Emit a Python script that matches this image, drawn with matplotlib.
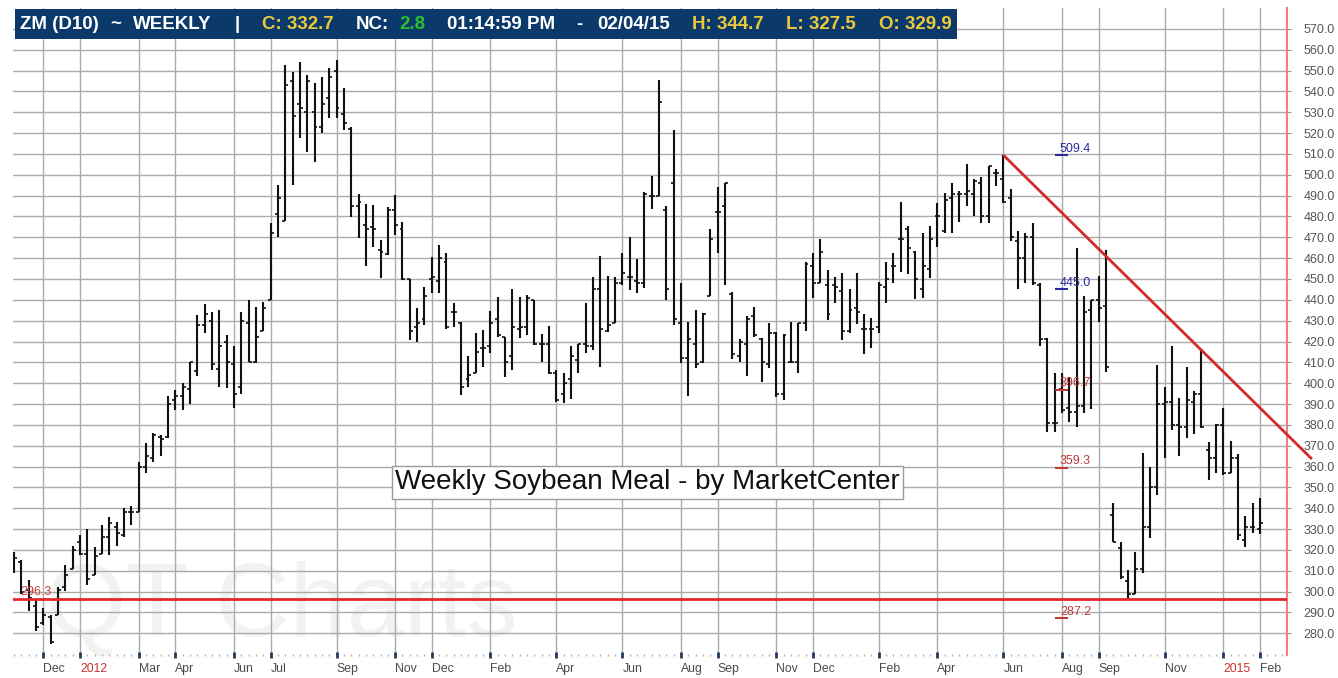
import numpy as np
import pandas as pd
import matplotlib
matplotlib.use('Agg')
import matplotlib.pyplot as plt
from matplotlib.patches import Rectangle

plt.rcParams['font.family'] = ['Liberation Sans', 'DejaVu Sans']

# weekly bars, first week starts Mon 2011-10-31
start = pd.Timestamp('2011-10-31')

opens = [318, 314, 301, 293, 285, 288, 289, 302, 311, 324,
         318, 308, 318, 326, 331, 327, 338, 338, 360, 364,
         374, 374, 392, 394, 397, 406, 428, 430, 407, 420,
         409, 398, 429, 410, 425, 440, 481, 478, 545, 534,
         530, 530, 523, 537, 550, 529, 522, 485, 476, 475,
         464, 462, 483, 474, 450, 427, 431, 450, 449, 458,
         434, 429, 402, 405, 417, 418, 431, 422, 413, 426,
         427, 440, 419, 419, 405, 395, 402, 411, 419, 418,
         445, 425, 429, 448, 451, 449, 448, 490, 490, 483,
         496, 429, 412, 419, 410, 442, 482, 485, 443, 413,
         419, 432, 421, 409, 424, 395, 410, 410, 429, 456,
         448, 447, 447, 444, 425, 436, 426, 426, 427, 446,
         456, 469, 474, 463, 445, 455, 480, 473, 489, 491,
         491, 491, 496, 480, 501, 498, 489, 468, 460, 470,
         447, 421, 381, 397, 388, 386, 389, 435, 440, 437,
         337, 321, 305, 299, 311, 331, 350, 390, 391, 380,
         379, 391, 395, 368, 364, 380, 357, 364, 325, 331,
         329.9]
highs = [319, 315, 305.5, 296, 292, 289, 302, 313, 322, 327,
         330, 321.5, 332, 336, 333.5, 340, 341, 362, 371.5, 376,
         375, 394, 396.7, 400, 410, 432.7, 438, 434.3, 435, 423,
         417.8, 434.3, 440, 436.4, 439, 476.7, 495, 552.7, 549.5, 554.3,
         547.9, 543.9, 546.8, 551, 555, 541.5, 522.8, 491, 486, 485.5,
         468.7, 484.7, 490.3, 477.5, 450, 435.9, 446, 460.4, 466.3, 462.6,
         438.6, 429.5, 413, 423.9, 425.5, 434.8, 441.2, 422, 445, 441.2,
         442.3, 440, 423.6, 427.4, 406.3, 404.7, 417.8, 419, 438.3, 451.1,
         461, 451.4, 451.1, 462.3, 470.3, 459.4, 491.9, 499.4, 545.5, 485,
         521.5, 448.2, 429.5, 435.1, 433.5, 473.8, 494, 496.2, 443.9, 421,
         432.2, 436.4, 421.5, 428.7, 424.7, 423.6, 429.5, 429, 458.3, 462.6,
         469, 454.3, 451.1, 453, 445, 452.7, 433.2, 431.1, 448.7, 458.3,
         462.3, 487.1, 475.4, 463.6, 472.2, 475.4, 486.3, 491.1, 495.9, 492.4,
         505.2, 497.8, 498.8, 504, 502.6, 509.4, 493, 473, 472, 477,
         448, 421.5, 404.7, 404.7, 403, 464.7, 442, 440, 451.4, 464,
         342.3, 323.9, 310.6, 319.1, 366.3, 360, 408.7, 398.3, 417.8, 392.7,
         407.9, 396.4, 415.9, 371.9, 380.4, 387.9, 372.4, 366, 336.2, 342.6,
         344.7]
lows = [309, 299, 290.5, 281, 284, 275, 289, 300.5, 311, 317.5,
        303, 308, 318, 317.5, 322, 326, 332, 338, 356.7, 362,
        365, 373.5, 387, 387, 390, 403.4, 424, 406.3, 398.3, 397.5,
        387.9, 395, 410, 409.5, 425, 440, 470, 478, 495, 517.5,
        511, 506.3, 520, 527, 527, 521.5, 479.9, 469.5, 456, 465.5,
        450.3, 461.5, 471.1, 449.5, 420.7, 419.9, 428, 443.4, 443.4, 425.8,
        427, 394.3, 398, 404.7, 407.9, 414.6, 422, 402.8, 406.3, 421.5,
        423.1, 418.3, 410.3, 404.4, 391.1, 390.3, 392.2, 405, 414.3, 415.9,
        407.6, 424.7, 428.7, 447.1, 444.7, 443.1, 445.5, 483.4, 489.8, 439.9,
        428, 409.8, 393.8, 407.1, 409.8, 441.8, 462.6, 447.1, 411.4, 410.3,
        403.4, 422, 400.7, 407.1, 393.5, 391.9, 409.5, 404.7, 425.2, 440.7,
        447.9, 430.3, 438.6, 420.7, 424.2, 428.4, 414, 416.7, 424.2, 438.3,
        448.2, 453.5, 452.4, 440.2, 440.7, 450.3, 465.5, 472.2, 471.9, 477.5,
        485, 480.2, 477, 477, 494.6, 486.6, 468, 445, 448, 447,
        418, 376.7, 376.7, 385.5, 381.5, 378.8, 385.5, 387.4, 429.5, 405.5,
        323.9, 306.3, 296.5, 298.8, 308.9, 325.5, 346.3, 363.9, 377.5, 365,
        373.5, 375.6, 378.3, 353.5, 356.7, 355.9, 356.7, 325, 321.2, 328.2,
        327.5]
closes = [316, 300, 297, 283, 289, 276, 301, 308, 320, 318,
          306, 317, 326, 333, 328, 338, 338, 360, 365, 375,
          373, 390, 394, 398, 410, 428, 433, 409, 418, 410,
          395, 430, 410, 422, 436, 472, 489, 543, 528, 532,
          545, 523, 534, 547, 532, 525, 485, 487, 474, 474,
          463, 483, 476, 450, 425, 429, 442, 451, 460, 427,
          434, 398, 404, 415, 417, 429, 423, 410, 427, 427,
          441, 419, 419, 405, 392, 400, 413, 419, 418, 445,
          426, 428, 448, 453, 451, 448, 491, 490, 535, 445,
          431, 412, 421, 409, 433, 469, 482, 496, 414, 420,
          431, 423, 410, 424, 395, 423, 410, 429, 457, 448,
          463, 433, 446, 425, 435, 434, 426, 426, 447, 450,
          456, 469, 465, 450, 456, 469, 480, 488, 491, 491,
          492, 497, 480, 504, 501, 487, 470, 460, 470, 448,
          421, 381, 381, 387, 386, 389, 434, 440, 436, 408,
          324, 307, 299, 311, 331, 350, 390, 391, 380, 379,
          392, 395, 379, 364, 380, 357, 364, 327, 331, 331,
          332.7]

tick_months = ['2011-12-01', '2012-01-01', '2012-03-01', '2012-04-01', '2012-06-01',
               '2012-07-01', '2012-09-01', '2012-11-01', '2012-12-01', '2013-02-01',
               '2013-04-01', '2013-06-01', '2013-08-01', '2013-09-01', '2013-11-01',
               '2013-12-01', '2014-02-01', '2014-04-01', '2014-06-01', '2014-08-01',
               '2014-09-01', '2014-11-01', '2015-01-01', '2015-02-01']
tick_labels = ['Dec', '2012', 'Mar', 'Apr', 'Jun', 'Jul', 'Sep', 'Nov', 'Dec', 'Feb',
               'Apr', 'Jun', 'Aug', 'Sep', 'Nov', 'Dec', 'Feb', 'Apr', 'Jun', 'Aug',
               'Sep', 'Nov', '2015', 'Feb']

support = 296.3
fib_levels = [509.4, 445.0, 396.7, 359.3, 287.2]
fib_colors = ['#2a2aa0', '#2a2aa0', '#c03a3a', '#c03a3a', '#c03a3a']

idx = np.arange(len(opens))
tick_pos = [((pd.Timestamp(m) + pd.offsets.BDay(0)) - start).days // 7 for m in tick_months]

W, H = 1338, 678
fig = plt.figure(figsize=(W / 100, H / 100), dpi=100)
ax = fig.add_axes([13 / W, (H - 655) / H, (1287 - 13) / W, (655 - 8) / H])
ax.set_xlim(-0.15, 173.7)
ax.set_ylim(269.6, 580)
ax.set_axisbelow(True)

# watermark
ax.text(0.026, 0.03, 'QT Charts', transform=ax.transAxes, fontsize=74,
        color='#f2f2f2', va='baseline', ha='left', zorder=0.2)

# OHLC bars
ax.vlines(idx, lows, highs, color='#111111', lw=1.5, zorder=3)
ax.hlines(opens, idx - 0.4, idx, color='#111111', lw=1.2, zorder=3)
ax.hlines(closes, idx, idx + 0.4, color='#111111', lw=1.2, zorder=3)

# support line
ax.axhline(support, color='#e3262b', lw=2, zorder=4)
ax.text(0.8, support + 0.6, f'{support:.1f}', color='#c04040', fontsize=9,
        va='bottom', ha='left', zorder=4)

# trendline from the late high through the later lower high
hi = np.array(highs)
i1 = 120 + int(np.argmax(hi[120:150]))
i2 = 160 + int(np.argmax(hi[160:165]))
slope = (hi[i2] - hi[i1]) / (i2 - i1)
x_end = 177.1
ax.plot([i1, x_end], [hi[i1], hi[i1] + slope * (x_end - i1)], color='#d42a2a',
        lw=2, zorder=5, clip_on=False, solid_capstyle='butt')

# fib labels
for lv, c in zip(fib_levels, fib_colors):
    ax.hlines(lv, 142.0, 143.8, color=c, lw=1.5, zorder=5)
    ax.text(142.7, lv + 0.3, f'{lv:.1f}', color=c, fontsize=9, va='bottom',
            ha='left', zorder=5)

# title box
ax.text(86.4, 352.5, 'Weekly Soybean Meal - by MarketCenter', fontsize=20,
        color='#111111', ha='center', va='center', zorder=6,
        bbox=dict(boxstyle='square,pad=0.12', fc='white', ec='#9a9a9a', lw=1))

# axes styling
ax.yaxis.tick_right()
ax.set_yticks(np.arange(280, 571, 10))
ax.yaxis.set_major_formatter(matplotlib.ticker.FormatStrFormatter('%.1f'))
ax.tick_params(axis='y', length=3, color='#999999', pad=9, labelsize=9,
               labelcolor='#555555')
ax.set_xticks(tick_pos)
ax.set_xticklabels(tick_labels)
ax.set_xticks(np.arange(0, 174), minor=True)
ax.tick_params(axis='x', which='major', direction='inout', length=5, width=2,
               color='#1f3b5c', pad=3, labelsize=8.8, labelcolor='#4a4a4a')
ax.tick_params(axis='x', which='minor', direction='inout', length=1.5, width=1,
               color='#b0b0b0')
for t, lab in zip(ax.xaxis.get_major_ticks(), tick_labels):
    t.label1.set_horizontalalignment('left')
    if lab.isdigit():
        t.tick1line.set_color('#d03030')
        t.label1.set_color('#c83030')
ax.grid(True, which='major', color='#ababab', lw=1)
for s in ['left', 'top', 'bottom']:
    ax.spines[s].set_visible(False)
ax.spines['right'].set_color('#f08080')
ax.spines['right'].set_linewidth(1.5)

# header bar
fig.add_artist(Rectangle((15 / W, (H - 39) / H), 942 / W, 30 / H,
                         transform=fig.transFigure, fc='#0a396a', ec='none', zorder=10))
hy = (H - 24.5) / H
header = [('ZM (D10)', 20, 'white'), ('~', 110, 'white'), ('WEEKLY', 133, 'white'),
          ('|', 235, 'white'), ('C: 332.7', 262, '#ecc93c'), ('NC:', 356, 'white'),
          ('2.8', 399, '#2fbf2f'), ('01:14:59 PM', 447, 'white'), ('-', 576, 'white'),
          ('02/04/15', 597, 'white'), ('H: 344.7', 692, '#ecc93c'),
          ('L: 327.5', 786, '#ecc93c'), ('O: 329.9', 879, '#ecc93c')]
for txt, px, col in header:
    fig.text(px / W, hy, txt, color=col, fontsize=13.5, fontweight='bold',
             ha='left', va='center', zorder=11)

fig.savefig('out.png', dpi=100)
